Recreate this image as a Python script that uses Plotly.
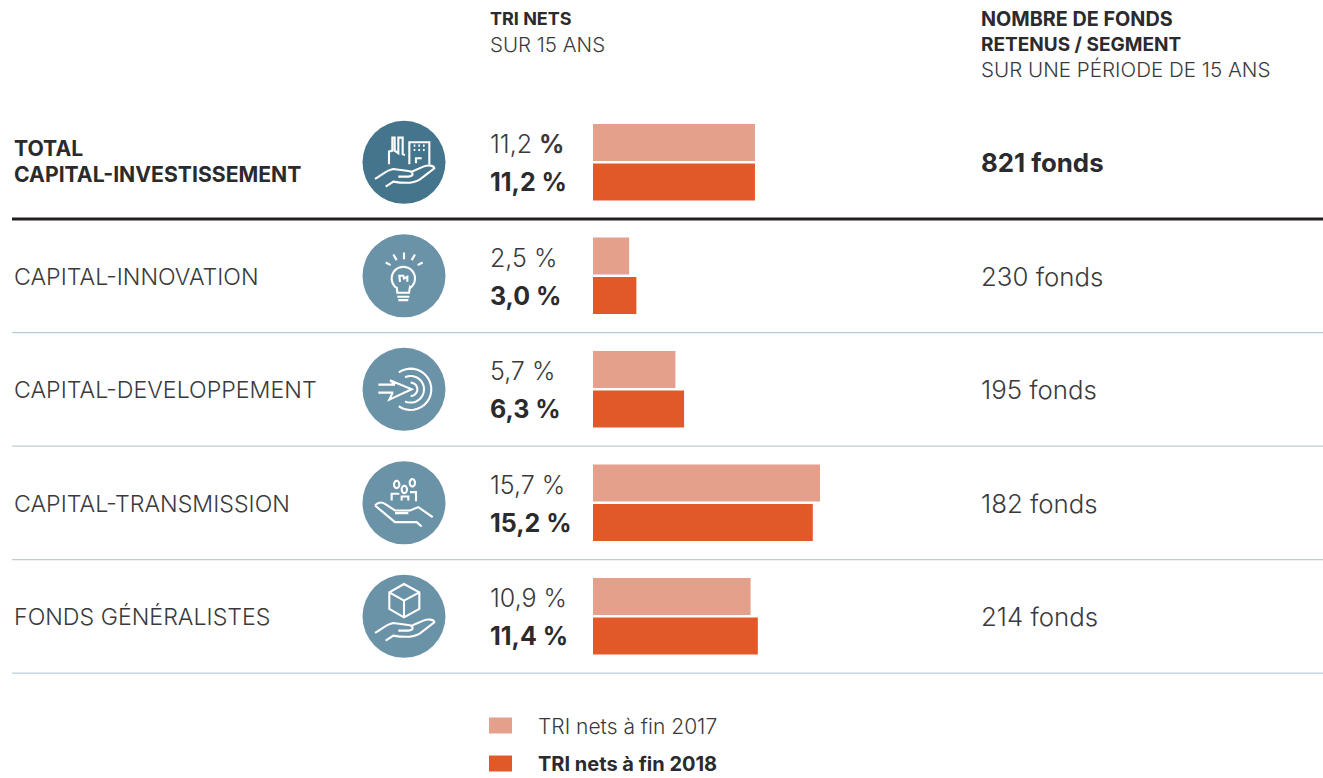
import numpy as np
import plotly.graph_objects as go

W, H = 1323, 778
FONT = "Inter"
TXT = "#3a3a3c"
DARK = "#2b2a2c"

rows = ["TOTAL CAPITAL-INVESTISSEMENT", "CAPITAL-INNOVATION", "CAPITAL-DEVELOPPEMENT",
        "CAPITAL-TRANSMISSION", "FONDS GÉNÉRALISTES"]
tri_2017 = [11.2, 2.5, 5.7, 15.7, 10.9]
tri_2018 = [11.2, 3.0, 6.3, 15.2, 11.4]
labels_2017 = ["11,2 <b>%</b>", "2,5 %", "5,7 %", "15,7 %", "10,9 %"]
labels_2018 = ["11,2 %", "3,0 %", "6,3 %", "15,2 %", "11,4 %"]
funds = ["821 fonds", "230 fonds", "195 fonds", "182 fonds", "214 fonds"]
legend_names = ["TRI nets à fin 2017", "TRI nets à fin 2018"]

C17, C18 = "#e4a08a", "#e15829"
ICON0, ICON = "#44758c", "#6b93a8"
SEP, RULE = "#b9cdd8", "#231f20"

# pixel mapping of the axes
X0, PX_PER_PCT = 593, 14.46
Y0, ROW_H = 162.3, 113.5
row_idx = list(range(len(rows)))

fig = go.Figure()
fig.add_bar(name=legend_names[0], y=row_idx, x=tri_2017, orientation="h", marker_color=C17,
            marker_line_width=0, hoverinfo="skip", showlegend=False)
fig.add_bar(name=legend_names[1], y=row_idx, x=tri_2018, orientation="h", marker_color=C18,
            marker_line_width=0, hoverinfo="skip", showlegend=False)


def px(x): return x / W
def py(y): return 1 - y / H


def note(text, x, y, size, color=TXT, bold=False, weight=None):
    fig.add_annotation(text=f"<b>{text}</b>" if bold else text, x=px(x), y=py(y),
                       xref="paper", yref="paper", xanchor="left", yanchor="middle",
                       showarrow=False, align="left",
                       font=dict(family=FONT, size=size, color=DARK if bold else color,
                                 weight=weight if weight else "normal"), borderpad=0, borderwidth=0)


def row_y(i): return Y0 + ROW_H * i


LIGHT = 300
# headers
note("TRI NETS", 490, 19, 18, bold=True)
note("SUR 15 ANS", 490, 44.5, 20.5, weight=LIGHT)
note("NOMBRE DE FONDS", 981, 19, 19.8, bold=True)
note("RETENUS / SEGMENT", 981, 45, 19, bold=True)
note("SUR UNE PÉRIODE DE 15 ANS", 981, 69.5, 20.6, weight=LIGHT)

# row labels
note("TOTAL", 14, 147.5, 21.2, bold=True)
note("CAPITAL-INVESTISSEMENT", 14, 173.5, 21.2, bold=True)
for i in range(1, 5):
    note(rows[i], 14, row_y(i) + 1, 23.2, weight=LIGHT)

# values
for i in row_idx:
    note(labels_2017[i], 490, row_y(i) - 18, 25, weight=LIGHT)
    note(labels_2018[i], 490, row_y(i) + 20, 25, bold=True)
    note(funds[i], 981, row_y(i) + (0 if i == 0 else 0.5), 25.8, bold=(i == 0), weight=None if i == 0 else LIGHT)

# legend
for j, name in enumerate(legend_names):
    yc = 725.5 + j * 38
    fig.add_shape(type="rect", xref="paper", yref="paper", x0=px(489), x1=px(512),
                  y0=py(yc - 8), y1=py(yc + 8), fillcolor=[C17, C18][j], line_width=0)
    note(name, 538, yc + 0.5, 21 if j == 0 else 20, bold=(j == 1), weight=LIGHT if j == 0 else None)

# separators
for i in row_idx:
    yy = i + 0.5
    fig.add_shape(type="line", xref="paper", yref="y", x0=px(12), x1=px(1323), y0=yy, y1=yy,
                  line=dict(color=RULE if i == 0 else SEP, width=3 if i == 0 else 1.2))


# icons: paths are drawn in zoom units (3x) relative to an icon centre
def arc(cx, cy, r, a0, a1, n=24):
    t = np.radians(np.linspace(a0, a1, n))
    return "M" + " L".join(f"{cx + r * np.cos(a):.1f},{cy + r * np.sin(a):.1f}" for a in t)


def oval(cx, cy, rx, ry, n=24):
    t = np.linspace(0, 2 * np.pi, n)
    return "M" + " L".join(f"{cx + rx * np.cos(a):.1f},{cy + ry * np.sin(a):.1f}" for a in t) + " Z"


def to_pixels(path, cx, cy, ox, oy):
    out, is_x = [], True
    tokens = path.replace(",", " ").replace("M", " M ").replace("L", " L ").replace("C", " C ").replace("Z", " Z ").split()
    for t in tokens:
        if t in "MLCZ":
            out.append(t)
        else:
            v = float(t)
            out.append(f"{cx + (v - ox) / 3:.2f}" if is_x else f"{cy + (v - oy) / 3:.2f}")
            is_x = not is_x
    return " ".join(out)


HAND = ("M105,207 C125,195 140,180 160,177 L205,183 C222,186 222,199 205,200 L175,200 "
        "M213,186 L250,170 C265,164 282,166 283,175 L240,208 C225,218 200,222 160,215 L137,230")
BUILD = ("M147,163 L147,125 L157,122 L157,83 L164,83 L164,122 L175,130 L175,83 L188,83 L188,133 L195,135 "
         "M208,163 L208,97 L268,97 L268,163 M228,160 L228,145 L245,145 "
         "M221,107 L226,107 M235,107 L240,107 M249,107 L254,107 M221,120 L226,120 M235,120 L240,120 M249,120 L254,120")
BULB = ("M137,457 L152,465 M160,433 L170,450 M192,427 L192,447 M225,433 L215,450 M248,457 L233,465 "
        + arc(190, 505, 35, 130, 410) + " L210,530 L207,548 L172,548 L170,530 "
        "M175,570 L205,570 M172,560 L208,560 M180,515 L178,497 L190,497 L192,505 L202,500 L202,515")
TARGET = (arc(212, 147, 62, -125, 125) + " " + arc(212, 147, 40, -115, 115) + " " + arc(212, 147, 20, -90, 90)
          + " M115,133 L165,133 M115,157 L160,157 M150,120 L215,147 L148,178 L158,157 M150,120 L165,133")
PEOPLE = (oval(170, 432, 8, 11) + " " + oval(193, 447, 8, 11) + " " + oval(217, 427, 8, 11)
          + " M155,480 L155,460 L178,460 M185,480 L185,468 L205,468 L205,480 M210,455 L228,455 L228,482"
          " M105,495 C115,484 125,484 135,490 L165,510 L210,510 L235,500 L278,530"
          " M105,495 L165,545 L230,545 L245,558 M165,518 L205,518")
CUBE = ("M192,730 L238,755 L238,805 L192,830 L148,805 L148,755 Z M148,755 L192,780 L238,755 M192,780 L192,830 "
        "M105,877 C125,865 140,850 160,847 L205,853 C222,856 222,869 205,870 L175,870 "
        "M213,856 L250,840 C265,834 282,836 283,845 L240,878 C225,888 200,892 160,885 L137,900")
icons = [(BUILD + " " + HAND, 192, 157), (BULB, 192, 497), (TARGET, 192, 147), (PEOPLE, 192, 487), (CUBE, 192, 827)]
ICON_X, ICON_R = 404, 41.5
for i, (p, ox, oy) in enumerate(icons):
    cy = row_y(i)
    fig.add_shape(type="circle", xref="x2", yref="y2", x0=ICON_X - ICON_R, x1=ICON_X + ICON_R,
                  y0=cy - ICON_R, y1=cy + ICON_R, fillcolor=ICON0 if i == 0 else ICON, line_width=0)
    fig.add_shape(type="path", xref="x2", yref="y2", path=to_pixels(p, ICON_X, cy, ox, oy),
                  line=dict(color="white", width=2.1))

fig.update_layout(
    width=W, height=H, margin=dict(l=0, r=0, t=0, b=0), paper_bgcolor="white", plot_bgcolor="white",
    barmode="group", bargap=0.304, bargroupgap=0.063, showlegend=False,
    xaxis=dict(range=[-X0 / PX_PER_PCT, (W - X0) / PX_PER_PCT], visible=False, fixedrange=True),
    yaxis=dict(range=[(H - Y0) / ROW_H, -Y0 / ROW_H], visible=False, fixedrange=True),
    xaxis2=dict(range=[0, W], visible=False, overlaying="x", fixedrange=True),
    yaxis2=dict(range=[H, 0], visible=False, overlaying="y", fixedrange=True),
)
# a hidden trace keeps the pixel overlay axes alive
fig.add_scatter(x=[0], y=[0], xaxis="x2", yaxis="y2", mode="markers", marker_opacity=0,
                hoverinfo="skip", showlegend=False)

fig.write_html("out.html", config={"displayModeBar": False},
               post_script="document.body.style.margin='0';document.body.style.overflow='hidden';")
